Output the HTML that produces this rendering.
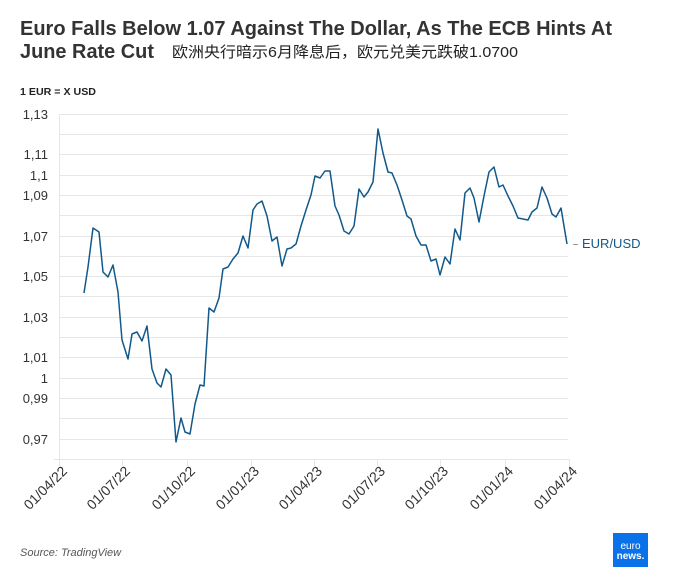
<!DOCTYPE html>
<html><head><meta charset="utf-8"><style>
body{margin:0;background:#fff;}
svg{display:block;font-family:"Liberation Sans","Noto Sans CJK SC",sans-serif;}
</style></head><body>
<svg width="688" height="583" viewBox="0 0 688 583">
<text x="20" y="35" font-size="20" font-weight="bold" fill="#333" textLength="592" lengthAdjust="spacingAndGlyphs">Euro Falls Below 1.07 Against The Dollar, As The ECB Hints At</text>
<text x="20" y="58" font-size="20" font-weight="bold" fill="#333" textLength="134" lengthAdjust="spacingAndGlyphs">June Rate Cut</text>
<text x="172" y="57" font-size="15" fill="#222" textLength="346" lengthAdjust="spacingAndGlyphs">欧洲央行暗示6月降息后，欧元兑美元跌破1.0700</text>
<text x="20" y="95" font-size="10" font-weight="bold" fill="#222" textLength="76" lengthAdjust="spacingAndGlyphs">1 EUR = X USD</text>
<g stroke="#e6e6e6" stroke-width="1">
<line x1="60" x2="568" y1="114.5" y2="114.5"/><line x1="60" x2="568" y1="134.5" y2="134.5"/><line x1="60" x2="568" y1="154.5" y2="154.5"/><line x1="60" x2="568" y1="175.5" y2="175.5"/><line x1="60" x2="568" y1="195.5" y2="195.5"/><line x1="60" x2="568" y1="215.5" y2="215.5"/><line x1="60" x2="568" y1="236.5" y2="236.5"/><line x1="60" x2="568" y1="256.5" y2="256.5"/><line x1="60" x2="568" y1="276.5" y2="276.5"/><line x1="60" x2="568" y1="296.5" y2="296.5"/><line x1="60" x2="568" y1="317.5" y2="317.5"/><line x1="60" x2="568" y1="337.5" y2="337.5"/><line x1="60" x2="568" y1="357.5" y2="357.5"/><line x1="60" x2="568" y1="378.5" y2="378.5"/><line x1="60" x2="568" y1="398.5" y2="398.5"/><line x1="60" x2="568" y1="418.5" y2="418.5"/><line x1="60" x2="568" y1="439.5" y2="439.5"/>
<line x1="59.5" x2="59.5" y1="114" y2="459"/>
<line x1="54" x2="570" y1="459.5" y2="459.5"/>
<line x1="59.5" x2="59.5" y1="459" y2="466"/><line x1="122.5" x2="122.5" y1="459" y2="466"/><line x1="187.5" x2="187.5" y1="459" y2="466"/><line x1="251.5" x2="251.5" y1="459" y2="466"/><line x1="314.5" x2="314.5" y1="459" y2="466"/><line x1="377.5" x2="377.5" y1="459" y2="466"/><line x1="440.5" x2="440.5" y1="459" y2="466"/><line x1="505.5" x2="505.5" y1="459" y2="466"/><line x1="569.5" x2="569.5" y1="459" y2="466"/>
</g>
<g font-size="13" fill="#333" text-anchor="end">
<text x="48" y="119">1,13</text><text x="48" y="159">1,11</text><text x="48" y="180">1,1</text><text x="48" y="200">1,09</text><text x="48" y="241">1,07</text><text x="48" y="281">1,05</text><text x="48" y="322">1,03</text><text x="48" y="362">1,01</text><text x="48" y="383">1</text><text x="48" y="403">0,99</text><text x="48" y="444">0,97</text>
</g>
<g font-size="14" fill="#333" text-anchor="end">
<text transform="translate(68,472) rotate(-45)">01/04/22</text>
<text transform="translate(131,472) rotate(-45)">01/07/22</text>
<text transform="translate(196,472) rotate(-45)">01/10/22</text>
<text transform="translate(260,472) rotate(-45)">01/01/23</text>
<text transform="translate(323,472) rotate(-45)">01/04/23</text>
<text transform="translate(386,472) rotate(-45)">01/07/23</text>
<text transform="translate(449,472) rotate(-45)">01/10/23</text>
<text transform="translate(514,472) rotate(-45)">01/01/24</text>
<text transform="translate(578,472) rotate(-45)">01/04/24</text>
</g>
<polyline fill="none" stroke="#11598a" stroke-width="1.5" stroke-linejoin="round" points="84,293 88,267 93,228 99,232 103,272 108,277 113,265 118,292 122,340 128,359 132,334 137,332 142,341 147,326 152,369 157,383 161,387 166,369 171,375 176,442 181,418 185,432 190,434 195,404 200,385 204,386 209,308 214,312 219,298 223,269 228,267 233,259 238,253 243,236 248,248 253,210 257,204 262,201 267,216 272,241 277,237 282,266 287,249 291,248 296,244 301,226 306,210 311,195 315,176 320,178 325,171 330,171 335,206 339,215 344,231 349,234 354,226 359,189 364,197 368,192 373,182 378,129 383,153 388,172 392,173 397,185 402,200 407,216 411,219 416,236 421,245 426,245 431,261 436,259 440,275 445,257 450,264 455,229 460,240 465,193 470,188 474,198 479,222 484,196 489,172 494,167 499,187 503,185 508,196 513,206 518,218 523,219 528,220 532,212 537,208 542,187 547,198 552,214 556,217 561,208 567,244"/>
<line x1="573" x2="578" y1="244.5" y2="244.5" stroke="#999"/>
<text x="582" y="248" font-size="13" fill="#11598a">EUR/USD</text>
<text x="20" y="556" font-size="11" font-style="italic" fill="#555">Source: TradingView</text>
<rect x="613" y="533" width="35" height="34" fill="#0a72e8"/>
<text x="630.5" y="549" font-size="10" fill="#fff" text-anchor="middle">euro</text>
<text x="630.5" y="559" font-size="10" font-weight="bold" fill="#fff" text-anchor="middle">news.</text>
</svg>
</body></html>
